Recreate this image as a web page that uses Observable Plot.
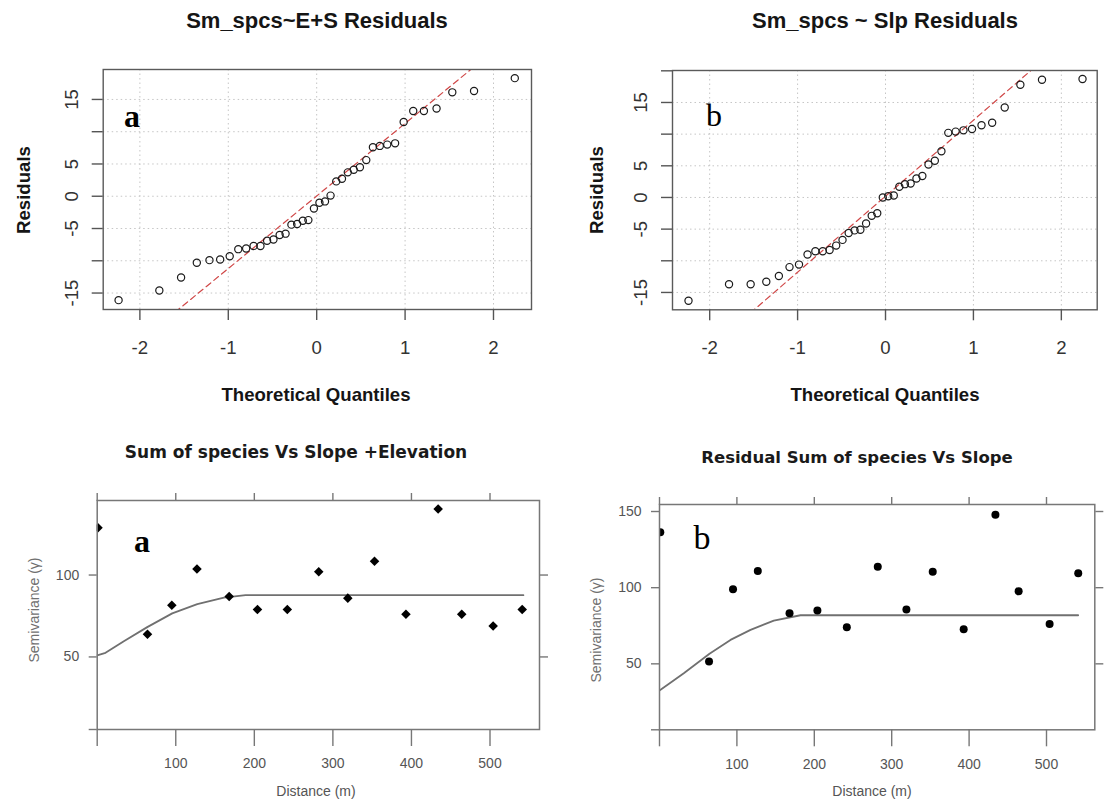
<!DOCTYPE html>
<html><head><meta charset="utf-8">
<script src="https://cdn.jsdelivr.net/npm/d3@7"></script>
<script src="https://cdn.jsdelivr.net/npm/@observablehq/plot@0.6"></script>
<style>
body{margin:0;background:#fff;}
#root{position:relative;width:1105px;height:800px;overflow:hidden;background:#fff;}
.p{position:absolute;}
.t{position:absolute;white-space:nowrap;line-height:1;}
</style></head><body><div id="root"></div>
<script>
// ---------- data ----------
const theoQ = [-2.241,-1.780,-1.534,-1.356,-1.213,-1.092,-0.984,-0.887,-0.798,-0.714,-0.636,-0.561,-0.489,-0.419,-0.352,-0.286,-0.221,-0.157,-0.094,-0.031,
               0.031,0.094,0.157,0.221,0.286,0.352,0.419,0.489,0.561,0.636,0.714,0.798,0.887,0.984,1.092,1.213,1.356,1.534,1.780,2.241];
const residA = [-16.1,-14.6,-12.6,-10.3,-9.9,-9.8,-9.3,-8.2,-8.1,-7.7,-7.7,-6.9,-6.7,-6.0,-5.8,-4.4,-4.3,-3.8,-3.7,-1.9,
                -1.0,-0.8,0.1,2.3,2.7,3.7,4.1,4.5,5.6,7.6,7.8,8.0,8.2,11.5,13.2,13.2,13.6,16.1,16.3,18.3];
const residB = [-16.3,-13.7,-13.7,-13.3,-12.4,-11.0,-10.6,-9.0,-8.5,-8.5,-8.3,-7.6,-6.7,-5.6,-5.2,-5.1,-4.1,-2.9,-2.5,0.0,
                0.2,0.3,1.7,2.1,2.2,3.0,3.4,5.2,5.8,7.3,10.2,10.4,10.6,10.8,11.4,11.8,14.2,17.8,18.6,18.7];
const qqLineA = [0.04, 11.24];   // intercept, slope
const qqLineB = [0.2, 12.0];
const qqXTicks = [-2,-1,0,1,2];
const qqYTicksA = [-15,-10,-5,0,5,10,15];
const qqYTicksB = [-15,-10,-5,0,5,10,15,20];
const qqYLabels = [-15,-5,0,5,15];

const lagDist = [1,64,95,127,168,204,242,282,319,353,393,434,464,504,541];
const gammaA = [128.9,63.8,81.6,103.7,86.9,78.9,78.9,102.0,85.9,108.4,76.0,140.3,76.0,68.9,78.9];
const gammaB = [136.4,51.5,99.0,111.0,83.2,85.0,74.0,113.8,85.6,110.4,72.7,147.8,97.6,76.2,109.5];
const modelDistA = [0,10.6,33.9,63.7,95.5,127.4,161.3,188.9,542.5];
const modelGammaA = [51.0,52.5,59.6,68.2,76.6,82.2,86.2,87.7,87.7];
const modelDistB = [0,31.4,64.6,91.7,117.6,147.7,182.2,540.9];
const modelGammaB = [32.5,43.8,56.6,65.7,72.3,78.4,81.9,81.9];
const distTicks = [0,100,200,300,400,500];
const distLabels = [100,200,300,400,500];
const semiTicksA = [50,100];
const semiTicksB = [50,100,150];

const titleTL = "Sm_spcs~E+S Residuals";
const titleTR = "Sm_spcs ~ Slp Residuals";
const titleBL = "Sum of species Vs Slope +Elevation";
const titleBR = "Residual Sum of species Vs Slope";
const qqXLabel = "Theoretical Quantiles";
const qqYLabel = "Residuals";
const semiXLabel = "Distance (m)";
const semiYLabel = "Semivariance (\u03B3)";

// ---------- drawing ----------
const root = document.getElementById("root");
const FONT = "'Liberation Sans', Arial, sans-serif";

function place(node, left, top) {
  node.classList.add("p");
  node.style.left = left + "px";
  node.style.top = top + "px";
  root.appendChild(node);
}
function addText(txt, cx, cy, css, rot) {
  const d = document.createElement("div");
  d.className = "t";
  d.textContent = txt;
  Object.assign(d.style, css);
  d.style.left = cx + "px";
  d.style.top = cy + "px";
  d.style.transform = "translate(-50%,-50%)" + (rot ? " rotate(" + rot + "deg)" : "");
  root.appendChild(d);
}

function qqPlot(resid, line, yTicks, xDomain, yDomain, w, h, m) {
  const pts = theoQ.map((q, i) => ({q, r: resid[i]}));
  const ln = [-3, 3].map(q => ({q, r: line[0] + line[1] * q}));
  return Plot.plot({
    width: w, height: h,
    marginLeft: m[0], marginRight: m[1], marginTop: m[2], marginBottom: m[3],
    style: {fontFamily: FONT, background: "transparent", overflow: "visible"},
    x: {domain: xDomain, label: null},
    y: {domain: yDomain, label: null},
    marks: [
      Plot.gridX(qqXTicks, {stroke: "#c6c6c6", strokeOpacity: 1, strokeDasharray: "1.5,3"}),
      Plot.gridY(qqYTicksA, {stroke: "#c6c6c6", strokeOpacity: 1, strokeDasharray: "1.5,3"}),
      Plot.line(ln, {x: "q", y: "r", stroke: "#d04848", strokeWidth: 1.2, strokeDasharray: "6,4", clip: true}),
      Plot.dot(pts, {x: "q", y: "r", r: 3.6, stroke: "#1a1a1a", strokeWidth: 1.2, fill: "none"}),
      Plot.frame({stroke: "#5a5a5a", strokeWidth: 1.4}),
      Plot.axisX(qqXTicks, {anchor: "bottom", tickSize: 11, tickPadding: 20, fontSize: 18.6, fill: "#333",
        stroke: "#555", strokeWidth: 1.4, tickFormat: d => String(d), label: null}),
      Plot.axisY(yTicks, {anchor: "left", tickSize: 11, tickPadding: 20, tickRotate: -90, lineAnchor: "middle",
        textAnchor: "middle", fontSize: 18.6, fill: "#333", stroke: "#555", strokeWidth: 1.4,
        tickFormat: d => qqYLabels.includes(d) ? String(d) : "", label: null})
    ]
  });
}

function semiPlot(gamma, mDist, mGamma, symbol, r, yTicks, xDomain, yDomain, w, h, m) {
  const pts = lagDist.map((d, i) => ({d, g: gamma[i]}));
  const model = mDist.map((d, i) => ({d, g: mGamma[i]}));
  return Plot.plot({
    width: w, height: h,
    marginLeft: m[0], marginRight: m[1], marginTop: m[2], marginBottom: m[3],
    style: {fontFamily: FONT, background: "transparent", overflow: "visible"},
    x: {domain: xDomain, label: null},
    y: {domain: yDomain, label: null},
    marks: [
      Plot.line(model, {x: "d", y: "g", stroke: "#707070", strokeWidth: 1.8, clip: true}),
      Plot.dot(pts, {x: "d", y: "g", r, symbol, fill: "#000", stroke: "none", clip: true}),
      Plot.frame({stroke: "#777", strokeWidth: 1.5}),
      Plot.axisX(distTicks, {anchor: "bottom", tickSize: 17, tickPadding: 12, fontSize: 14, fill: "#555",
        stroke: "#777", strokeWidth: 1.4, tickFormat: d => distLabels.includes(d) ? String(d) : "", label: null}),
      Plot.axisX(distTicks, {anchor: "top", tickSize: 8, stroke: "#777", strokeWidth: 1.4,
        tickFormat: () => "", label: null}),
      Plot.axisY([yDomain[0], ...yTicks], {anchor: "left", tickSize: 8, tickPadding: 10, fontSize: 14, fill: "#555",
        stroke: "#777", strokeWidth: 1.4, tickFormat: d => yTicks.includes(d) ? String(d) : "", label: null}),
      Plot.axisY(yTicks, {anchor: "right", tickSize: 8, stroke: "#777", strokeWidth: 1.4,
        tickFormat: () => "", label: null})
    ]
  });
}

// top-left QQ
place(qqPlot(residA, qqLineA, qqYTicksA, [-2.415, 2.43], [-17.55, 19.64], 560, 420, [102.7, 29, 69, 111]), 0, 0);
// top-right QQ
place(qqPlot(residB, qqLineB, qqYTicksB, [-2.423, 2.408], [-17.74, 20.05], 545, 420, [112, 8.3, 70, 110.7]), 560, 0);
// bottom-left semivariogram
place(semiPlot(gammaA, modelDistA, modelGammaA, "diamond2", 4.3, semiTicksA, [0, 563], [5.7, 145.5], 560, 380, [96.7, 21, 80, 71]), 0, 420);
// bottom-right semivariogram
place(semiPlot(gammaB, modelDistB, modelGammaB, "circle", 4, semiTicksB, [0, 562.4], [6.7, 154.6], 545, 380, [99, 10.7, 84, 70.7]), 560, 420);

// titles & labels
const bold = {fontFamily: FONT, fontWeight: "bold", color: "#151515"};
addText(titleTL, 317, 21, {...bold, fontSize: "22px"});
addText(titleTR, 885, 21, {...bold, fontSize: "22px"});
addText(qqXLabel, 316, 395, {...bold, fontSize: "18.6px"});
addText(qqXLabel, 885, 395, {...bold, fontSize: "18.6px"});
addText(qqYLabel, 24, 190, {...bold, fontSize: "18.6px"}, -90);
addText(qqYLabel, 597, 190, {...bold, fontSize: "18.6px"}, -90);

const dv = {fontFamily: "'DejaVu Sans', Verdana, sans-serif", fontWeight: "bold", color: "#1a1a1a"};
addText(titleBL, 296, 452, {...dv, fontSize: "17px"});
addText(titleBR, 857, 458, {...dv, fontSize: "16.5px"});
const gray = {fontFamily: FONT, color: "#707070", fontSize: "14px"};
addText(semiYLabel, 34, 610, gray, -90);
addText(semiYLabel, 596, 630, gray, -90);
addText(semiXLabel, 316, 791, {...gray, color: "#555"});
addText(semiXLabel, 872, 791, {...gray, color: "#555"});

const serif = {fontFamily: "'Liberation Serif', 'Times New Roman', serif", color: "#000", fontSize: "32px"};
addText("a", 132, 116, {...serif, fontWeight: "bold"});
addText("b", 714, 115, serif);
addText("a", 142, 541, {...serif, fontWeight: "bold"});
addText("b", 702, 538, {...serif, fontSize: "34px"});
</script></body></html>
